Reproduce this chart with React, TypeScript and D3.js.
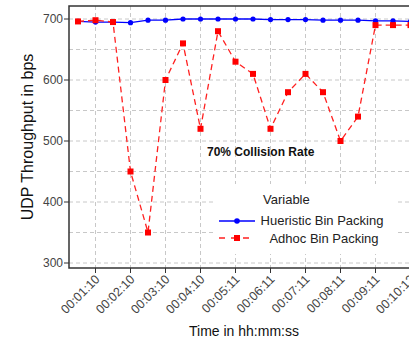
import React, { useRef, useEffect } from 'react';
import * as d3 from 'd3';

// values
const hueristic = [696, 695, 695, 694, 698, 698, 700, 700, 700, 700, 700, 699, 699, 699, 698, 698, 698, 697, 697, 696];
const adhoc = [696, 698, 695, 450, 350, 600, 660, 520, 680, 630, 610, 520, 580, 610, 580, 500, 540, 690, 690, 690];
const timeLabels = ["00:01:10", "00:02:10", "00:03:10", "00:04:10", "00:05:11", "00:06:11", "00:07:11", "00:08:11", "00:09:11", "00:10:12"];
const yTicks = [300, 400, 500, 600, 700];
const yGrid = [300, 350, 400, 450, 500, 550, 600, 650, 700];

function App() {
  const ref = useRef(null);

  useEffect(() => {
    const svg = d3.select(ref.current);
    svg.selectAll("*").remove();
    drawChart(svg);
  }, []);

  const drawChart = (svg) => {
    const font = "'Liberation Sans', Arial, sans-serif";
    const left = 69, top = 6, bottom = 268;

    var x = d3.scaleLinear().domain([0, 19]).range([78, 410.5]);
    var y = d3.scaleLinear().domain([300, 700]).range([263, 19]);

    // tick index for each label: every second point
    const tickIdx = timeLabels.map((d, i) => i * 2 + 1);

    // grid
    svg.append("g").selectAll("line.h")
      .data(yGrid).enter().append("line")
      .attr("x1", left).attr("x2", 409)
      .attr("y1", d => y(d)).attr("y2", d => y(d))
      .attr("stroke", "#c8c8c8").attr("stroke-dasharray", "4,3");
    svg.append("g").selectAll("line.v")
      .data(tickIdx).enter().append("line")
      .attr("x1", d => x(d)).attr("x2", d => x(d))
      .attr("y1", top).attr("y2", bottom)
      .attr("stroke", "#c8c8c8").attr("stroke-dasharray", "4,3");

    // border
    svg.append("path")
      .attr("d", `M409,${top}H${left}V${bottom}H409`)
      .attr("fill", "none").attr("stroke", "#333").attr("stroke-width", 1.5);

    // y axis ticks + labels
    const yg = svg.append("g");
    yg.selectAll("line").data(yTicks).enter().append("line")
      .attr("x1", left - 5).attr("x2", left)
      .attr("y1", d => y(d)).attr("y2", d => y(d))
      .attr("stroke", "#333");
    yg.selectAll("text").data(yTicks).enter().append("text")
      .attr("x", left - 6).attr("y", d => y(d) + 4)
      .attr("text-anchor", "end")
      .style("font", `12px ${font}`).attr("fill", "#444")
      .text(d => d);

    // x axis ticks + rotated labels
    const xg = svg.append("g");
    xg.selectAll("line").data(tickIdx).enter().append("line")
      .attr("x1", d => x(d)).attr("x2", d => x(d))
      .attr("y1", bottom).attr("y2", bottom + 5)
      .attr("stroke", "#333");
    xg.selectAll("text").data(timeLabels).enter().append("text")
      .attr("transform", (d, i) => `translate(${x(tickIdx[i]) + 5},${bottom + 12})rotate(-45)`)
      .attr("text-anchor", "end")
      .style("font", `12.5px ${font}`).attr("fill", "#444")
      .text(d => d);

    // titles
    svg.append("text")
      .attr("transform", "translate(33,137)rotate(-90)")
      .attr("text-anchor", "middle")
      .style("font", `16px ${font}`).attr("fill", "#111")
      .text("UDP Throughput in bps");
    svg.append("text")
      .attr("x", 244).attr("y", 336)
      .attr("text-anchor", "middle")
      .style("font", `14px ${font}`).attr("fill", "#111")
      .text("Time in hh:mm:ss");

    const line = d3.line().x((d, i) => x(i)).y(d => y(d));

    // blue series
    svg.append("path").datum(hueristic)
      .attr("d", line).attr("fill", "none")
      .attr("stroke", "#0000ff").attr("stroke-width", 1.3);
    svg.append("g").selectAll("circle").data(hueristic).enter().append("circle")
      .attr("cx", (d, i) => x(i)).attr("cy", d => y(d)).attr("r", 2.6)
      .attr("fill", "#0000ff");

    // red series
    svg.append("path").datum(adhoc)
      .attr("d", line).attr("fill", "none")
      .attr("stroke", "#ff2020").attr("stroke-width", 1.3)
      .attr("stroke-dasharray", "6,4");
    svg.append("g").selectAll("rect").data(adhoc).enter().append("rect")
      .attr("x", (d, i) => x(i) - 3).attr("y", d => y(d) - 3)
      .attr("width", 6).attr("height", 6)
      .attr("fill", "#ff0000");

    // annotation
    svg.append("text")
      .attr("x", 207).attr("y", 156)
      .style("font", `bold 12px ${font}`).attr("fill", "#111")
      .text("70% Collision Rate");

    // legend
    const lg = svg.append("g");
    lg.append("rect").attr("x", 215).attr("y", 184).attr("width", 180).attr("height", 70).attr("fill", "#fff");
    lg.append("text").attr("x", 263).attr("y", 204)
      .style("font", `13px ${font}`).attr("fill", "#222").text("Variable");
    lg.append("line").attr("x1", 219).attr("x2", 255).attr("y1", 221).attr("y2", 221)
      .attr("stroke", "#0000ff").attr("stroke-width", 1.3);
    lg.append("circle").attr("cx", 237).attr("cy", 221).attr("r", 2.8).attr("fill", "#0000ff");
    lg.append("text").attr("x", 322).attr("y", 225).attr("text-anchor", "middle")
      .style("font", `13px ${font}`).attr("fill", "#222").text("Hueristic Bin Packing");
    lg.append("line").attr("x1", 219).attr("x2", 255).attr("y1", 238).attr("y2", 238)
      .attr("stroke", "#ff2020").attr("stroke-width", 1.3).attr("stroke-dasharray", "6,6");
    lg.append("rect").attr("x", 234).attr("y", 235).attr("width", 6).attr("height", 6).attr("fill", "#ff0000");
    lg.append("text").attr("x", 324).attr("y", 243).attr("text-anchor", "middle")
      .style("font", `13px ${font}`).attr("fill", "#222").text("Adhoc Bin Packing");
  };

  return (
    <svg ref={ref} width={409} height={342}
      style={{ position: "fixed", left: 0, top: 0, background: "#fff" }}>
    </svg>
  );
}

export default App;
